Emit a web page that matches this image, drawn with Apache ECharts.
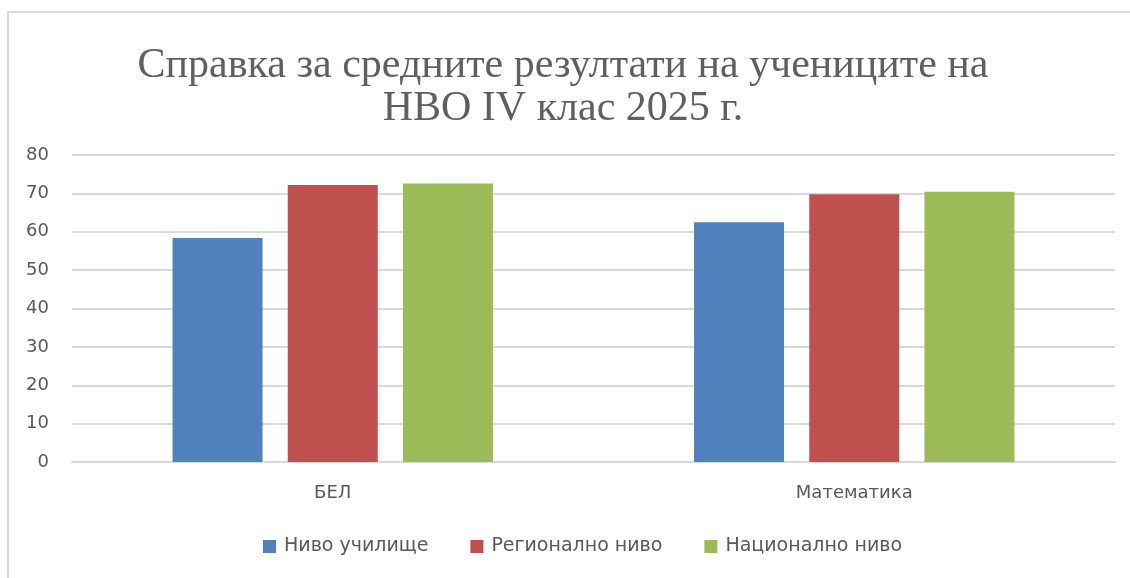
<!DOCTYPE html>
<html>
<head>
    <meta charset="UTF-8">
    <title>НВО IV клас 2025</title>
    <script src="https://cdn.jsdelivr.net/npm/echarts@6/dist/echarts.min.js"></script>
    <style>
      html, body { margin: 0; padding: 0; background: #fff; }
      #container { width: 1130px; height: 578px; }
    </style>
</head>
<body>
<div id="container"></div>
<script>
    // данни
    var categories = ['БЕЛ', 'Математика'];
    var seriesNames = ['Ниво училище', 'Регионално ниво', 'Национално ниво'];
    var schoolLevel = [58.4, 62.5];
    var regionalLevel = [72.2, 69.8];
    var nationalLevel = [72.6, 70.4];
    var colors = ['#4F81BD', '#C0504D', '#9BBB59'];

    var myChart = echarts.init(document.getElementById('container'), null, {renderer: 'canvas'});
    var font = '"DejaVu Sans", "Noto Sans", sans-serif';

    function bar(name, data, color) {
        return {
            name: name,
            type: 'bar',
            data: data,
            barWidth: 90,
            barGap: '28%',
            itemStyle: { color: color }
        };
    }

    var option = {
        backgroundColor: '#FFFFFF',
        animation: false,
        title: {
            text: 'Справка за средните резултати на учениците на\nНВО IV клас 2025 г.',
            left: 558,
            textAlign: 'center',
            top: 39,
            textStyle: {
                fontFamily: '"Liberation Serif", "DejaVu Serif", serif',
                fontWeight: 'normal',
                fontSize: 42,
                lineHeight: 43,
                color: '#5f5f5f'
            }
        },
        legend: {
            data: seriesNames,
            bottom: 17,
            left: 258,
            icon: 'rect',
            itemWidth: 13,
            itemHeight: 13,
            itemGap: 42,
            textStyle: { fontFamily: font, fontSize: 19, color: '#595959', padding: [0, 0, 0, 3] }
        },
        grid: {
            left: 72,
            right: 15,
            top: 155,
            bottom: 116
        },
        xAxis: {
            type: 'category',
            data: categories,
            axisLine: { lineStyle: { color: '#D9D9D9', width: 2 } },
            axisTick: { show: false },
            axisLabel: { fontFamily: font, fontSize: 18, color: '#595959', margin: 22 }
        },
        yAxis: {
            type: 'value',
            min: 0,
            max: 80,
            interval: 10,
            axisLine: { show: false },
            axisTick: { show: false },
            axisLabel: { fontFamily: font, fontSize: 18, color: '#595959', margin: 23 },
            splitLine: { lineStyle: { color: '#D9D9D9', width: 2 } }
        },
        graphic: [
            {
                type: 'polyline',
                silent: true,
                shape: { points: [[8, 578], [8, 12], [1130, 12]] },
                style: { stroke: '#D9D9D9', lineWidth: 2, fill: null }
            }
        ],
        series: [
            bar(seriesNames[0], schoolLevel, colors[0]),
            bar(seriesNames[1], regionalLevel, colors[1]),
            bar(seriesNames[2], nationalLevel, colors[2])
        ]
    };

    myChart.setOption(option, true);
</script>
</body>
</html>
